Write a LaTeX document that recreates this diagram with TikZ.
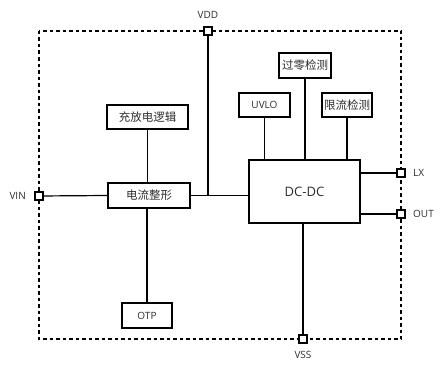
\documentclass[tikz,border=0pt]{standalone}
\usepackage{fontspec}
\setmainfont{Open Sans}
\newfontfamily\cjk{Noto Sans CJK SC}
\usepackage{xcolor}
\usepackage{tikz}
\usetikzlibrary{positioning,calc}
\definecolor{texto}{RGB}{45,45,45}

\begin{document}
\begin{tikzpicture}[x=1pt,y=-1pt,
  bloque/.style={draw,line width=2.2pt,inner sep=0pt,text=texto,font=\cjk\fontsize{11.5}{12}\selectfont},
  pin/.style={draw,fill=white,line width=1.7pt,minimum size=8.5pt,inner sep=0pt},
  etiqueta/.style={text=texto,font=\fontsize{10}{12}\selectfont,inner sep=0pt},
  linea/.style={line width=1.2pt}]
\useasboundingbox (0,0) rectangle (441,369);
% marco del chip
\draw[line width=1.2pt,dash pattern=on 3.5pt off 3pt] (39,31) rectangle (401,339);
% bloques
\node[bloque,minimum width=52pt,minimum height=25pt] (cero) at (305,65.5) {过零检测};
\node[bloque,minimum width=51pt,minimum height=24pt,font=\fontsize{10}{12}\selectfont] (uvlo) at (264.5,105) {UVLO};
\node[bloque,minimum width=50pt,minimum height=24pt] (limite) at (347,105) {限流检测};
\node[bloque,minimum width=81pt,minimum height=24pt] (logica) at (147.5,117) {充放电逻辑};
\node[bloque,minimum width=82pt,minimum height=25pt] (forma) at (149,195.5) {电流整形};
\node[bloque,minimum width=111pt,minimum height=63pt,font=\fontsize{13}{14}\selectfont] (dcdc) at (304.5,191.5) {DC-DC};
\node[bloque,minimum width=50pt,minimum height=25pt,font=\fontsize{10}{12}\selectfont] (otp) at (147,315.5) {OTP};
% pines
\node[pin] (vdd) at (208,31) {};
\node[pin] (vss) at (303,339) {};
\node[pin] (vin) at (39,196) {};
\node[pin] (lx) at (401,173) {};
\node[pin] (out) at (401,214) {};
\node[etiqueta] (tvdd) at (208,15) {VDD};
\node[etiqueta] (tvss) at (303,355) {VSS};
\node[etiqueta,anchor=east] (tvin) at (26,196) {VIN};
\node[etiqueta,anchor=west] (tlx) at (413,173) {LX};
\node[etiqueta,anchor=west] (tout) at (413,214) {OUT};
% conexiones
\draw[linea] (vin) -- (forma.west);
\draw[linea] (forma.east) -- (forma.east -| dcdc.west);
\draw[linea] (vdd) -- (vdd |- forma.east);
\draw[linea] (logica) -- (logica |- forma.north);
\draw[linea] (otp.north) -- (otp.north |- forma.south);
\draw[linea] (uvlo) -- (uvlo |- dcdc.north);
\draw[linea] (cero) -- (cero |- dcdc.north);
\draw[linea] (limite) -- (limite |- dcdc.north);
\draw[linea] (lx -| dcdc.east) -- (lx);
\draw[linea] (out -| dcdc.east) -- (out);
\draw[linea] (vss |- dcdc.south) -- (vss);
\end{tikzpicture}
\end{document}
